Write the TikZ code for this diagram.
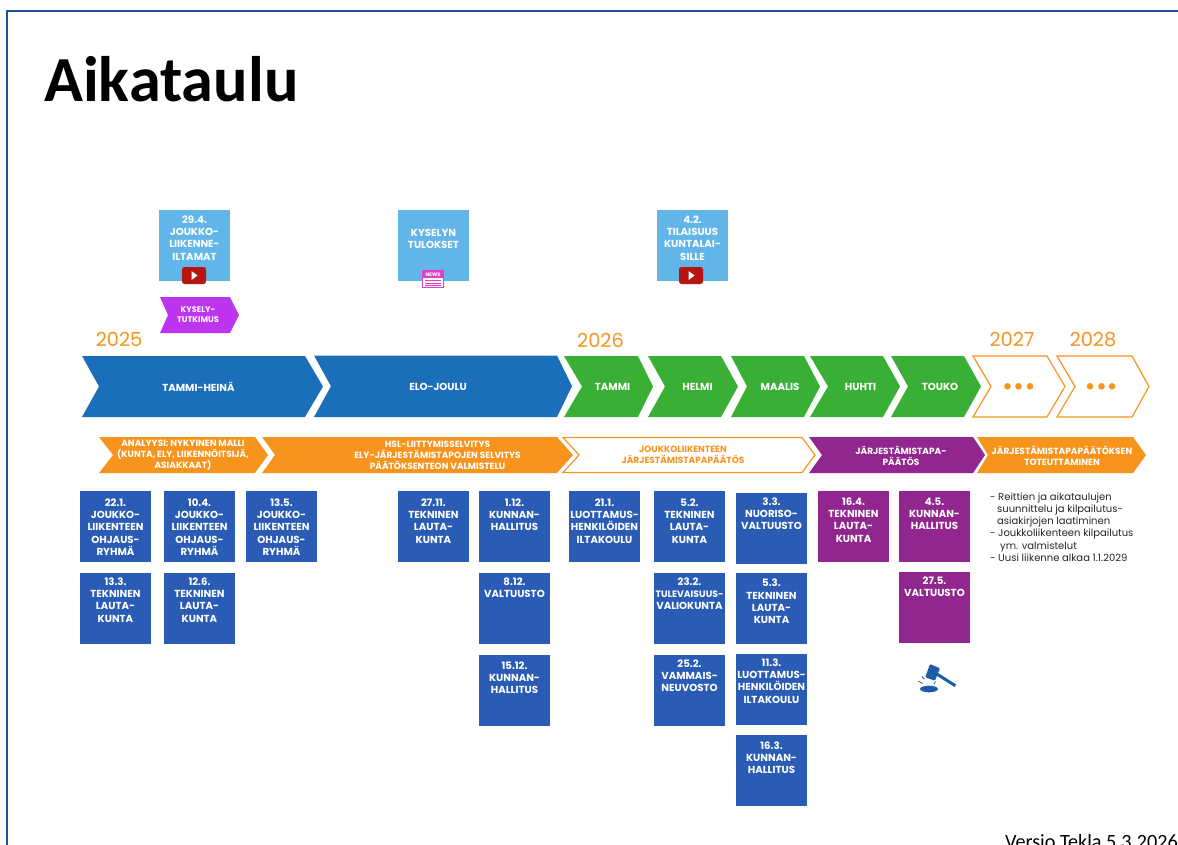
\documentclass[tikz,border=0pt]{standalone}
\usepackage{fontspec}
\setmainfont{Poppins}
\newfontfamily\titlefont{Carlito}
\definecolor{framecol}{HTML}{1F5497}
\definecolor{darkblue}{HTML}{2A5CB5}
\definecolor{lightblue}{HTML}{62B5E8}
\definecolor{chevblue}{HTML}{1B6FBA}
\definecolor{grn}{HTML}{39B035}
\definecolor{purp}{HTML}{90268E}
\definecolor{orng}{HTML}{F7941D}
\definecolor{violetc}{HTML}{BE35F0}
\definecolor{ytred}{HTML}{B71510}
\definecolor{newspink}{HTML}{E23EC4}
\definecolor{gavelc}{HTML}{1F5CA8}
\tikzset{
  boxstyle/.style={anchor=north west,inner sep=0pt,outer sep=0pt,minimum width=71pt,minimum height=71pt,text=white},
  chevtxt/.style={text=white,align=center,inner sep=0pt,font=\fontsize{10.2}{11}\selectfont\bfseries},
  rowtxt/.style={text=white,align=center,inner sep=0pt,font=\fontsize{9}{11}\selectfont\bfseries},
  yeartxt/.style={text=orng,inner sep=0pt,font=\fontsize{19.3}{20}\selectfont},
  dotstyle/.style={fill=orng,draw=none}
}
% name, x, y, colour, top offset, text
\newcommand\bx[6]{\node[boxstyle,fill=#4] (#1) at (#2,#3) {\parbox[t][71pt][t]{71pt}{\vspace*{#5pt}\centering\fontsize{10.2}{12.15}\selectfont\bfseries #6\par}};}
% top y, bottom y, left, notch, top-right, tip
\newcommand\chev[7]{\path[#7] (#3,#1) -- (#5,#1) -- (#6,{(#1+#2)/2}) -- (#5,#2) -- (#3,#2) -- (#4,{(#1+#2)/2}) -- cycle;}
\newcommand\yt[2]{\path[fill=ytred,rounded corners=2.5pt] (#1,#2) rectangle ++(24,17);
  \path[fill=white] ({#1+9.5},{#2+4}) -- ({#1+15.5},{#2+8.5}) -- ({#1+9.5},{#2+13}) -- cycle;}
\begin{document}
\begin{tikzpicture}[x=1pt,y=-1pt]
\useasboundingbox (0,0) rectangle (1178,844);
\fill[white] (0,0) rectangle (1178,844);
\draw[framecol,line width=2pt] (7,846) -- (7,10.5) -- (1180,10.5);
\node[anchor=base west,inner sep=0pt,font=\titlefont\fontsize{64.3}{64}\selectfont\bfseries] (title) at (44,101) {Aikataulu};
\node[anchor=base east,inner sep=0pt,font=\titlefont\fontsize{20.2}{20}\selectfont] (versio) at (1178,848) {Versio Tekla 5.3.2026};

% top boxes
\bx{t1}{159}{210}{lightblue}{6}{29.4.\\JOUKKO-\\LIIKENNE-\\ILTAMAT}
\bx{t2}{398}{210}{lightblue}{19.5}{KYSELYN\\TULOKSET}
\bx{t3}{657}{210}{lightblue}{6}{4.2.\\TILAISUUS\\KUNTALAI-\\SILLE}
\yt{182}{267}
\yt{679}{267}
% news icon
\path[fill=white,draw=newspink,line width=1.2pt] (422.5,270.5) rectangle (443.5,287.5);
\path[fill=newspink] (423,271) rectangle (443,278);
\node[text=white,inner sep=0pt,font=\fontsize{5}{5}\selectfont\bfseries] (newslabel) at (433,274.5) {NEWS};
\draw[newspink,line width=0.9pt] (425,280.5) -- (441,280.5) (425,283) -- (441,283) (425,285.3) -- (441,285.3);

% survey chevron
\chev{297}{333}{160}{168}{230}{239}{fill=violetc}
\node[rowtxt,font=\fontsize{8.2}{10}\selectfont\bfseries] (kysely) at (198,314.5) {KYSELY-\\TUTKIMUS};

% years
\node[yeartxt] (y25) at (119,339.5) {2025};
\node[yeartxt] (y26) at (600.5,340) {2026};
\node[yeartxt] (y27) at (1012,339.5) {2027};
\node[yeartxt] (y28) at (1093,339.5) {2028};

% main chevrons
\chev{356}{417}{82}{99}{305}{323}{fill=chevblue}
\chev{355.5}{417}{314}{331}{557}{572}{fill=chevblue}
\chev{356}{417}{564}{582}{638}{653}{fill=grn}
\chev{356}{417}{648}{665}{721}{738}{fill=grn}
\chev{356}{417}{731}{747}{804}{820}{fill=grn}
\chev{356}{417}{810}{828}{883}{900}{fill=grn}
\chev{356}{417}{891}{908}{964}{981}{fill=grn}
\chev{356}{417}{973}{991}{1047}{1065}{fill=white,draw=orng,line width=1.2pt}
\chev{356}{417}{1057}{1075}{1132}{1149}{fill=white,draw=orng,line width=1.2pt}
\node[chevtxt] (m1) at (198.5,387) {TAMMI-HEINÄ};
\node[chevtxt] (m2) at (438,387) {ELO-JOULU};
\node[chevtxt] (m3) at (612.5,387) {TAMMI};
\node[chevtxt] (m4) at (697.5,387) {HELMI};
\node[chevtxt] (m5) at (780,387) {MAALIS};
\node[chevtxt] (m6) at (860.5,387) {HUHTI};
\node[chevtxt] (m7) at (940,387) {TOUKO};
\foreach \cx in {1007.5,1018.5,1030,1090,1101.5,1112}{\fill[dotstyle] (\cx,386.3) circle (3.3pt);}

% phase chevrons
\chev{437}{473}{99}{113}{255}{268}{fill=orng}
\chev{437}{473}{262}{275}{557}{573}{fill=orng}
\chev{437.5}{472.5}{563}{579}{802}{815}{fill=white,draw=orng,line width=1.2pt}
\chev{437}{473}{809}{822}{973}{985}{fill=purp}
\chev{437}{473}{977}{988}{1133}{1146}{fill=orng}
\node[rowtxt] (p1) at (183,455) {ANALYYSI: NYKYINEN MALLI\\(KUNTA, ELY, LIIKENNÖITSIJÄ,\\ASIAKKAAT)};
\node[rowtxt] (p2) at (437.5,455) {HSL-LIITTYMISSELVITYS\\ELY-JÄRJESTÄMISTAPOJEN SELVITYS\\PÄÄTÖKSENTEON VALMISTELU};
\node[rowtxt,text=orng] (p3) at (683,455) {JOUKKOLIIKENTEEN\\JÄRJESTÄMISTAPAPÄÄTÖS};
\node[rowtxt] (p4) at (901,456) {JÄRJESTÄMISTAPA-\\PÄÄTÖS};
\node[rowtxt] (p5) at (1062,455.5) {JÄRJESTÄMISTAPAPÄÄTÖKSEN\\TOTEUTTAMINEN};

% meeting boxes
\bx{a1}{80}{491}{darkblue}{8}{22.1.\\JOUKKO-\\LIIKENTEEN\\OHJAUS-\\RYHMÄ}
\bx{a2}{80}{573}{darkblue}{5}{13.3.\\TEKNINEN\\LAUTA-\\KUNTA}
\bx{b1}{164}{491}{darkblue}{8}{10.4.\\JOUKKO-\\LIIKENTEEN\\OHJAUS-\\RYHMÄ}
\bx{b2}{164}{573}{darkblue}{5}{12.6.\\TEKNINEN\\LAUTA-\\KUNTA}
\bx{c1}{246}{491}{darkblue}{8}{13.5.\\JOUKKO-\\LIIKENTEEN\\OHJAUS-\\RYHMÄ}
\bx{d1}{398}{491}{darkblue}{8}{27.11.\\TEKNINEN\\LAUTA-\\KUNTA}
\bx{e1}{479}{491}{darkblue}{8}{1.12.\\KUNNAN-\\HALLITUS}
\bx{e2}{479}{573}{darkblue}{5}{8.12.\\VALTUUSTO}
\bx{e3}{479}{655}{darkblue}{7}{15.12.\\KUNNAN-\\HALLITUS}
\bx{f1}{569}{491}{darkblue}{8}{21.1.\\LUOTTAMUS-\\HENKILÖIDEN\\ILTAKOULU}
\bx{g1}{654}{491}{darkblue}{8}{5.2.\\TEKNINEN\\LAUTA-\\KUNTA}
\bx{g2}{654}{573}{darkblue}{5}{23.2.\\\mbox{\fontsize{9.3}{12.15}\selectfont TULEVAISUUS-}\\VALIOKUNTA}
\bx{g3}{654}{655}{darkblue}{5}{25.2.\\VAMMAIS-\\NEUVOSTO}
\bx{h1}{736}{493}{darkblue}{5}{3.3.\\NUORISO-\\VALTUUSTO}
\bx{h2}{736}{573}{darkblue}{6.3}{5.3.\\TEKNINEN\\LAUTA-\\KUNTA}
\bx{h3}{736}{654}{darkblue}{5}{11.3.\\LUOTTAMUS-\\HENKILÖIDEN\\ILTAKOULU}
\bx{h4}{736}{735}{darkblue}{7}{16.3.\\KUNNAN-\\HALLITUS}
\bx{i1}{818}{491}{purp}{7}{16.4.\\TEKNINEN\\LAUTA-\\KUNTA}
\bx{j1}{899}{491}{purp}{7}{4.5.\\KUNNAN-\\HALLITUS}
\bx{j2}{899}{572}{purp}{5}{27.5.\\VALTUUSTO}

% notes
\node[anchor=north west,align=left,inner sep=0pt,text=black!85,font=\fontsize{10}{12.2}\selectfont] (notes) at (990,492.5) {-\hspace{2.5pt}Reittien ja aikataulujen\\\hspace*{7pt}suunnittelu ja kilpailutus-\\\hspace*{7pt}asiakirjojen laatiminen\\-\hspace{2.5pt}Joukkoliikenteen kilpailutus\\\hspace*{10pt}ym. valmistelut\\-\hspace{2.5pt}Uusi liikenne alkaa 1.1.2029};

% gavel
\path[fill=gavelc,rounded corners=1pt] (930,664) -- (940,668.3) -- (935,680.7) -- (925.3,677.3) -- cycle;
\draw[gavelc,line width=3pt] (937.3,674.3) -- (955.3,685.7);
\fill[gavelc] (929,689) ellipse (9pt and 3.3pt);
\draw[gavelc,line width=0.8pt] (918.5,681) -- (922.5,683.5) (922,676.5) -- (924.5,679) (935.5,681.5) -- (934,684);
\end{tikzpicture}
\end{document}
